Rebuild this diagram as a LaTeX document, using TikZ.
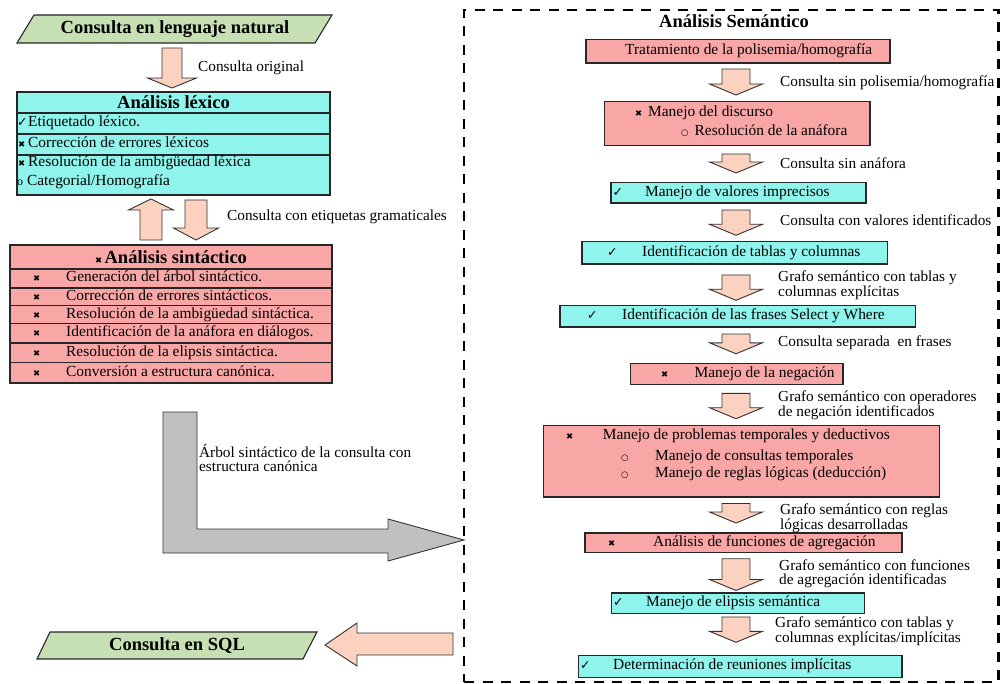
\documentclass[tikz,border=0pt]{standalone}
\usepackage{fontspec}
\setmainfont{Liberation Serif}
\newfontfamily\symfont{DejaVu Sans}
\usetikzlibrary{calc}

\definecolor{lgreen}{HTML}{C6E0B4}
\definecolor{cyanfill}{HTML}{8EF4EC}
\definecolor{pinkfill}{HTML}{F9A6A6}
\definecolor{peach}{HTML}{FBD2C0}
\definecolor{grayfill}{HTML}{C0C0C0}

% small list marks
\newcommand\mkcheck{{\symfont\fontsize{12.5}{12.5}\selectfont ✓}}
\newcommand\mkcross{{\symfont\fontsize{8.5}{8.5}\selectfont ✖}}
\newcommand\mkcircle{{\symfont\fontsize{8.5}{8.5}\selectfont ○}}

% vertical block arrows: #1 start, #2 tip, #3 half shaft, #4 half head, #5 head length
\newcommand\blkdown[5]{%
  \draw[blk] let \p1=#1, \p2=#2 in
    (\x1-#3pt,\y1) -- (\x1+#3pt,\y1) -- (\x1+#3pt,\y2+#5pt) -- (\x1+#4pt,\y2+#5pt)
    -- (\x1,\y2) -- (\x1-#4pt,\y2+#5pt) -- (\x1-#3pt,\y2+#5pt) -- cycle;}
\newcommand\blkup[5]{%
  \draw[blk] let \p1=#1, \p2=#2 in
    (\x1-#3pt,\y1) -- (\x1+#3pt,\y1) -- (\x1+#3pt,\y2-#5pt) -- (\x1+#4pt,\y2-#5pt)
    -- (\x1,\y2) -- (\x1-#4pt,\y2-#5pt) -- (\x1-#3pt,\y2-#5pt) -- cycle;}
% arrow between two stacked boxes of the semantic column
\newcommand\semarrow[4]{%
  \blkdown{($(#1.south -| ax)+(0,#3)$)}{($(#2.north -| ax)-(0,#4)$)}{14}{26.5}{11}}

\tikzset{
  box/.style={draw=black!85, line width=1.1pt, inner sep=0pt, outer sep=0pt, anchor=north west},
  cyanbox/.style={box, fill=cyanfill},
  pinkbox/.style={box, fill=pinkfill},
  txt/.style={inner sep=0pt, anchor=west, font=\fontsize{15.4}{15.4}\selectfont,
    text height=10pt, text depth=3pt},
  lbl/.style={inner sep=0pt, anchor=west, font=\fontsize{15.3}{13.8}\selectfont, align=left},
  blk/.style={draw=black!80, line width=0.9pt, fill=peach, line join=miter},
  para/.style={draw=black!85, line width=1.1pt, fill=lgreen},
  titletxt/.style={inner sep=0pt, font=\bfseries\fontsize{18.5}{18.5}\selectfont},
  headtxt/.style={font=\bfseries\fontsize{18.5}{18.5}\selectfont},
}

\begin{document}
\begin{tikzpicture}[x=1pt,y=-1pt]
\useasboundingbox (0,0) rectangle (1000,684);

% ---------- input query ----------
\draw[para] (17,43) -- (34,15) -- (332,15) -- (315,43) -- cycle;
\node[titletxt] (nl) at (175,29.5) {Consulta en lenguaje natural};

\blkdown{(172,48)}{(172,88)}{10}{24.5}{10}
\node[lbl] (l0) at (198,68) {Consulta original};

% ---------- lexical analysis ----------
\node[cyanbox, minimum width=313, minimum height=21] (lex0) at (17,92) {\bfseries\fontsize{18.5}{18.5}\selectfont Análisis léxico};
\node[cyanbox, minimum width=313, minimum height=21] (lex1) at (17,113) {};
\node[cyanbox, minimum width=313, minimum height=21] (lex2) at (17,134) {};
\node[cyanbox, minimum width=313, minimum height=40] (lex3) at (17,155) {};
\node[txt] (lx1m) at (17,123.5) {\mkcheck};
\node[txt] (lx1) at (28,123.5) {Etiquetado léxico.};
\node[txt] (lx2m) at (18,144.5) {\mkcross};
\node[txt] (lx2) at (28,144.5) {Corrección de errores léxicos};
\node[txt] (lx3m) at (18,163) {\mkcross};
\node[txt] (lx3) at (28,163) {Resolución de la ambigüedad léxica};
\node[txt] (lx4) at (17,182) {{\fontsize{12}{12}\selectfont o} Categorial/Homografía};

\blkup{(151,240)}{(151,199)}{11}{22.5}{11}
\blkdown{(196,200)}{(196,240)}{11}{22.5}{12}
\node[lbl] (l1) at (227,217) {Consulta con etiquetas gramaticales};

% ---------- syntactic analysis ----------
\node[pinkbox, minimum width=322, minimum height=24] (sin0) at (10,245) {\mkcross\ \bfseries\fontsize{18.5}{18.5}\selectfont Análisis sintáctico};
\node[pinkbox, minimum width=322, minimum height=19] (sin1) at (10,269) {};
\node[pinkbox, minimum width=322, minimum height=17.5] (sin2) at (10,288) {};
\node[pinkbox, minimum width=322, minimum height=18] (sin3) at (10,305.5) {};
\node[pinkbox, minimum width=322, minimum height=19.5] (sin4) at (10,323.5) {};
\node[pinkbox, minimum width=322, minimum height=19.5] (sin5) at (10,343) {};
\node[pinkbox, minimum width=322, minimum height=20.5] (sin6) at (10,362.5) {};
\foreach \n/\t in {1/Generación del árbol sintáctico.,
                   2/Corrección de errores sintácticos.,
                   3/Resolución de la ambigüedad sintáctica.,
                   4/Identificación de la anáfora en diálogos.,
                   5/Resolución de la elipsis sintáctica.,
                   6/Conversión a estructura canónica.}{
  \node[txt] (sx\n m) at (sin\n.west -| 33,0) {\mkcross};
  \node[txt] (sx\n) at (sin\n.west -| 66,0) {\t};
}

% ---------- semantic analysis frame ----------
\node[draw, line width=2.4pt, dash pattern=on 10pt off 8.5pt, inner sep=0pt, outer sep=0pt,
      anchor=north west, minimum width=534.5, minimum height=672] (sem) at (464,10) {};
\node[headtxt] (semt) at (734,21) {Análisis Semántico};

% ---------- parse tree to the semantic stage ----------
\draw[line width=0.9pt, draw=black!80, fill=grayfill]
  (163,412) -- (197,412) -- (197,529) -- (388,529) -- (388,519) -- (sem.west |- 0,540)
  -- (388,561) -- (388,553) -- (163,553) -- cycle;
\node[lbl] (l2) at (199,458) {Árbol sintáctico de la consulta con\\estructura canónica};

% ---------- SQL output ----------
\draw[para] (37,659) -- (50,632) -- (317,632) -- (303,659) -- cycle;
\node[titletxt] (sql) at (177,645.5) {Consulta en SQL};
\draw[blk] (453,633) -- (357,633) -- (357,623) -- (325,645) -- (357,666) -- (357,655) -- (453,655) -- cycle;

% ---------- semantic steps ----------
\coordinate (ax) at (736,0);

\node[pinkbox, minimum width=304, minimum height=23.5] (s1) at (586,39.5) {};
\node[txt] at (625,51) {Tratamiento de la polisemia/homografía};

\node[pinkbox, minimum width=265.5, minimum height=44] (s2) at (604.5,101.5) {};
\node[txt] at (635,113.5) {\mkcross};
\node[txt] at (648,113.5) {Manejo del discurso};
\node[txt] at (681,132) {\mkcircle};
\node[txt] at (694.5,132) {Resolución de la anáfora};

\node[cyanbox, minimum width=255, minimum height=20.5] (s3) at (611,182.5) {};
\node[txt] at (612.5,193) {\mkcheck};
\node[txt] at (645,193) {Manejo de valores imprecisos};

\node[cyanbox, minimum width=305.6, minimum height=22.7] (s4) at (582,241.3) {};
\node[txt] at (607,252.6) {\mkcheck};
\node[txt] at (642,252.6) {Identificación de tablas y columnas};

\node[cyanbox, minimum width=355.6, minimum height=21.7] (s5) at (560,305.3) {};
\node[txt] at (587,316) {\mkcheck};
\node[txt] at (622,316) {Identificación de las frases Select y Where};

\node[pinkbox, minimum width=212.6, minimum height=20.6] (s6) at (630.4,363.8) {};
\node[txt] at (661,374) {\mkcross};
\node[txt] at (694.5,374) {Manejo de la negación};

\node[pinkbox, minimum width=396, minimum height=71.3] (s7) at (543.7,425.7) {};
\node[txt] at (566,436.4) {\mkcross};
\node[txt] at (602.6,436.4) {Manejo de problemas temporales y deductivos};
\node[txt] at (621,456.5) {\mkcircle};
\node[txt] at (655,456.5) {Manejo de consultas temporales};
\node[txt] at (621,474.3) {\mkcircle};
\node[txt] at (655,474.3) {Manejo de reglas lógicas (deducción)};

\node[pinkbox, minimum width=317, minimum height=19.7] (s8) at (585,533) {};
\node[txt] at (608,543) {\mkcross};
\node[txt] at (653,543) {Análisis de funciones de agregación};

\node[cyanbox, minimum width=253, minimum height=20.7] (s9) at (611.5,593) {};
\node[txt] at (613,603.3) {\mkcheck};
\node[txt] at (646,603.3) {Manejo de elipsis semántica};

\node[cyanbox, minimum width=323.2, minimum height=22.1] (s10) at (578.8,655.3) {};
\node[txt] at (580,666.3) {\mkcheck};
\node[txt] at (613,666.3) {Determinación de reuniones implícitas};

% ---------- arrows between semantic steps ----------
\semarrow{s1}{s2}{6}{6.5}
\semarrow{s2}{s3}{8.5}{9.5}
\semarrow{s3}{s4}{7}{6}
\semarrow{s4}{s5}{11}{5}
\semarrow{s5}{s6}{7}{10}
\semarrow{s6}{s7}{9}{7}
\semarrow{s7}{s8}{6.5}{10}
\semarrow{s8}{s9}{6}{2.5}
\semarrow{s9}{s10}{3.3}{13}

\node[lbl] at (780,82.6) {Consulta sin polisemia/homografía};
\node[lbl] at (780,163) {Consulta sin anáfora};
\node[lbl] at (780,220.6) {Consulta con valores identificados};
\node[lbl] at (778,285.7) {Grafo semántico con tablas y\\columnas explícitas};
\node[lbl] at (778,342.5) {Consulta separada\ \ en frases};
\node[lbl] at (778,405.6) {Grafo semántico con operadores\\de negación identificados};
\node[lbl] at (780,518.5) {Grafo semántico con reglas\\lógicas desarrolladas};
\node[lbl] at (779,573.4) {Grafo semántico con funciones\\de agregación identificadas};
\node[lbl] at (775,631) {Grafo semántico con tablas y\\columnas explícitas/implícitas};
\end{tikzpicture}
\end{document}
